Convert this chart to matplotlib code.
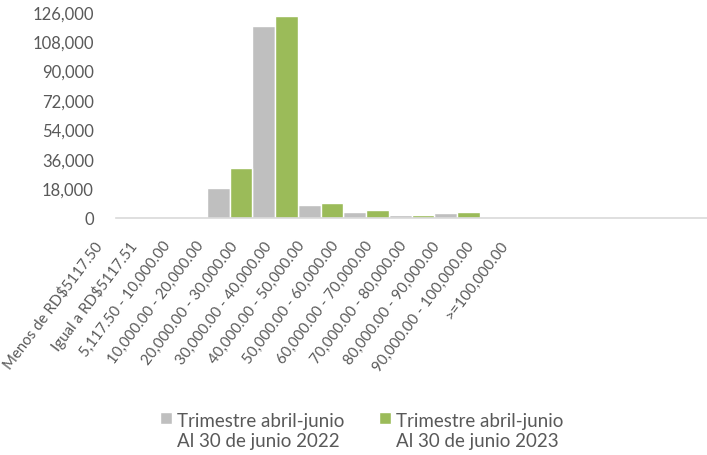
import matplotlib.pyplot as plt
import matplotlib.transforms as mtransforms
import numpy as np

plt.rcParams['font.family'] = ['Lato', 'DejaVu Sans']

categories = ['Menos de RD$5117.50', 'Igual a RD$5117.51', '5,117.50 - 10,000.00',
              '10,000.00 - 20,000.00', '20,000.00 - 30,000.00', '30,000.00 - 40,000.00',
              '40,000.00 - 50,000.00', '50,000.00 - 60,000.00', '60,000.00 - 70,000.00',
              '70,000.00 - 80,000.00', '80,000.00 - 90,000.00', '90,000.00 - 100,000.00',
              '>=100,000.00']
serie_2022 = [0, 0, 18200, 117200, 7700, 3600, 1500, 2600, 0, 0, 0, 0, 0]
serie_2023 = [0, 0, 30600, 123200, 8900, 4600, 1300, 3500, 0, 0, 0, 0, 0]
labels = ['Trimestre abril-junio\nAl 30 de junio 2022',
          'Trimestre abril-junio\nAl 30 de junio 2023']
yticks = [0, 18000, 36000, 54000, 72000, 90000, 108000, 126000]

gris = '#BFBFBF'
verde = '#9BBB59'
texto = '#595959'

fig = plt.figure(figsize=(7.07, 4.56), dpi=100)
ax = fig.add_axes([116 / 707, 1 - 218.5 / 456, 1 - 116 / 707, (218.5 - 12.7) / 456])

x = np.arange(len(categories))
w = 0.5
ax.bar(x - w / 2, serie_2022, w, color=gris, edgecolor='white', linewidth=1, label=labels[0])
ax.bar(x + w / 2, serie_2023, w, color=verde, edgecolor='white', linewidth=1, label=labels[1])

ax.set_yticks(yticks)
ax.set_yticklabels([f'{v:,}' for v in yticks])
ax.tick_params(axis='y', length=0, pad=16, labelsize=12, labelcolor=texto)

# the labels in the original sit on a tighter spacing than the bars,
# so place them on their own grid and slide them left by half a category
label_pos = 0.742 * x - 0.352
ax.set_xticks(label_pos)
ax.set_xticklabels(categories, rotation=53, ha='right', va='center',
                   rotation_mode='anchor')
ax.tick_params(axis='x', length=0, pad=18, labelsize=10.8, labelcolor=texto)
shift = mtransforms.ScaledTranslation(-22.75 / 100, 0, fig.dpi_scale_trans)
for lab in ax.get_xticklabels():
    lab.set_transform(lab.get_transform() + shift)

ax.set_xlim(-0.5, len(categories) - 0.5)
ax.set_ylim(0, 126000)

for s in ['top', 'right', 'left']:
    ax.spines[s].set_visible(False)
ax.spines['bottom'].set_color('#D9D9D9')
ax.spines['bottom'].set_linewidth(1.2)

leg = fig.legend(loc='lower center', bbox_to_anchor=(0.512, -0.012), ncol=2, frameon=False,
                 fontsize=13.5, labelcolor=texto, handlelength=0.6, handleheight=0.6,
                 handletextpad=0.3, columnspacing=1.85, borderpad=0.1)
# put the square next to the first line of each label
for col in leg._legend_handle_box.get_children():
    for entry in col.get_children():
        entry.align = 'top'

fig.savefig('out.png', dpi=100)
